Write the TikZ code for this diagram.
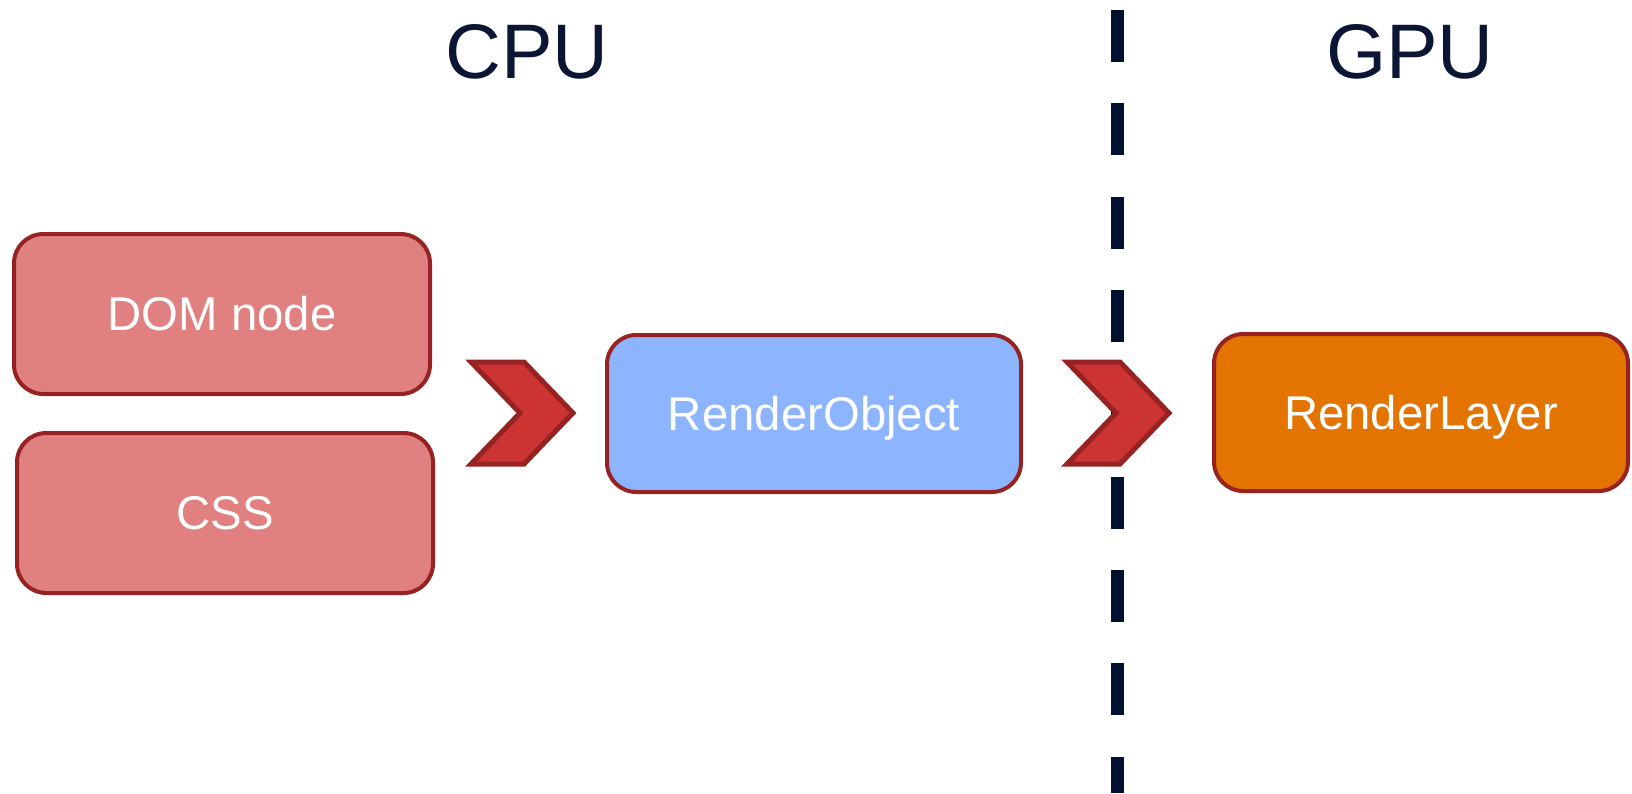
\documentclass[tikz,border=0pt]{standalone}
\usepackage{fontspec}
\setmainfont{Liberation Sans}
\definecolor{boxred}{HTML}{E08080}
\definecolor{edgered}{HTML}{962222}
\definecolor{chevred}{HTML}{CC3333}
\definecolor{boxblue}{HTML}{8DB5FF}
\definecolor{boxorange}{HTML}{E37400}
\definecolor{navy}{HTML}{00112F}
\definecolor{headtext}{HTML}{0A1633}
\begin{document}
\begin{tikzpicture}[x=0.75pt,y=-0.75pt,
  stagebox/.style={draw=edgered, line width=3pt, rounded corners=22pt,
    minimum width=312pt, minimum height=120pt, text=white,
    font=\fontsize{35.5}{40}\selectfont, text height=25.4pt, text depth=0pt},
  headlabel/.style={text=headtext, font=\fontsize{58}{70}\selectfont, anchor=base, inner sep=0pt},
  chevron/.style={fill=chevred, draw=edgered, line width=3.75pt},
  divider/.style={draw=navy, line width=9.75pt, dash pattern=on 39pt off 31pt}]
\useasboundingbox (0,0) rectangle (1632,793);

% headings
\node[headlabel] (cpu) at (527,78) {CPU};
\node[headlabel] (gpu) at (1410,78) {GPU};

% CPU / GPU divider
\coordinate (divtop) at (1117,10);
\coordinate (divbot) at (1117,793);
\draw[divider] (divtop) -- (divbot);

% stages
\node[stagebox, fill=boxred] (dom) at (222,314) {DOM node};
\node[stagebox, fill=boxred] (css) at (225,513) {CSS};
\node[stagebox, fill=boxblue, minimum width=310.5pt, minimum height=117.75pt] (ro) at (814,413.5) {RenderObject};
\node[stagebox, fill=boxorange, minimum width=310.5pt, minimum height=117.75pt] (rl) at (1421,412.5) {RenderLayer};

% chevrons between stages
\coordinate (c1) at (466,413);
\coordinate (c2) at (1062,413);
\foreach \c in {c1,c2}{
  \draw[chevron] ([shift={(5,-51)}]\c) -- ([shift={(58,-51)}]\c) -- ([shift={(107,0)}]\c)
    -- ([shift={(58,51)}]\c) -- ([shift={(5,51)}]\c) -- ([shift={(54,0)}]\c) -- cycle;
}
\end{tikzpicture}
\end{document}
